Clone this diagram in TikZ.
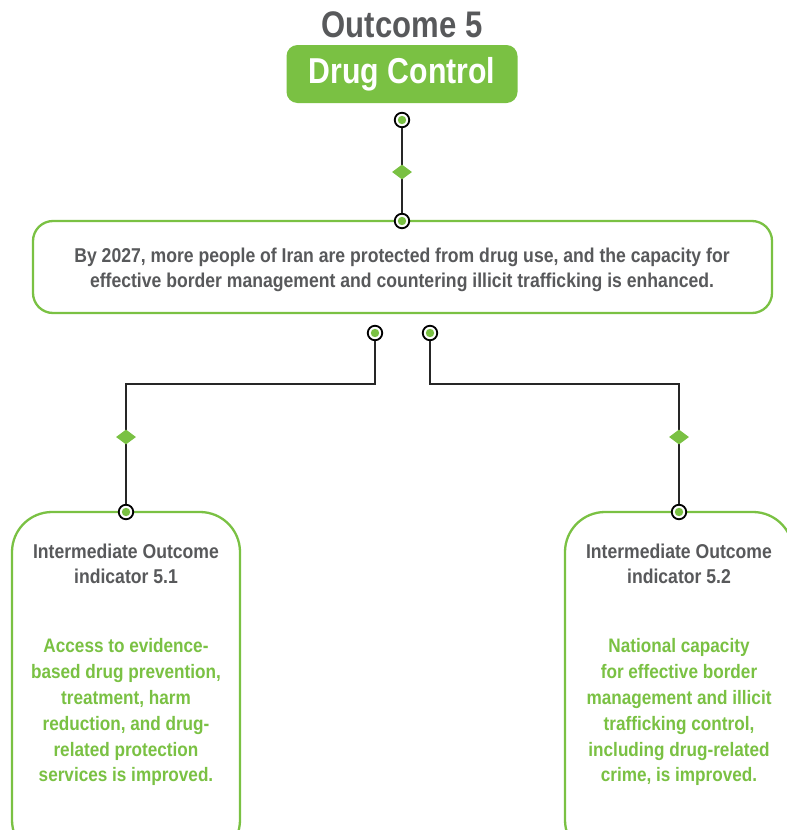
\documentclass[tikz,border=0pt]{standalone}
\usepackage{fontspec}
\setmainfont{Liberation Sans}[FakeStretch=0.84]
\newfontfamily\bodyfont{Liberation Sans}[FakeStretch=0.88]
\usetikzlibrary{shapes.geometric}
\definecolor{leaf}{HTML}{7AC143}
\definecolor{ink}{HTML}{58595B}
\tikzset{
  port/.style={circle, draw=black, line width=1.8pt, fill=white, minimum size=14.5pt, inner sep=0pt,
    path picture={\fill[leaf] (path picture bounding box.center) circle (4.2pt);}},
  gem/.style={diamond, fill=leaf, minimum width=20pt, minimum height=15pt, inner sep=0pt},
  wire/.style={draw=black!85, line width=1.8pt},
  frame/.style={draw=leaf, line width=2.3pt, fill=white},
  body/.style={align=center, inner sep=0pt, anchor=north},
  label/.style={body, text=ink, font=\bodyfont\bfseries\fontsize{20}{24.8}\selectfont},
  detail/.style={body, text=leaf, font=\bodyfont\bfseries\fontsize{19.5}{25.8}\selectfont},
}
\begin{document}
\begin{tikzpicture}[x=1pt, y=-1pt]
\useasboundingbox (0,0) rectangle (787,830);
\clip (0,0) rectangle (787,830);

% heading
\node[font=\bfseries\fontsize{37}{40}\selectfont, text=ink] (title) at (402,25) {Outcome 5};
\node[fill=leaf, rounded corners=11pt, minimum width=231pt, minimum height=58pt, inner sep=0pt,
      font=\bfseries\fontsize{36}{40}\selectfont, text=white] (head) at (402,74) {Drug Control};

% outcome statement
\draw[frame, rounded corners=20pt] (33,221) rectangle (772,313);
\node[label, font=\bodyfont\bfseries\fontsize{20}{25.5}\selectfont] (goal) at (402,247.5)
  {By 2027, more people of Iran are protected from drug use, and the capacity for\\
   effective border management and countering illicit trafficking is enhanced.};

% indicator boxes
\draw[frame, rounded corners=40pt] (12,512) rectangle (240,860);
\draw[frame, rounded corners=40pt] (565,512) rectangle (793,860);

\node[label] (t1) at (126,543.5) {Intermediate Outcome\\indicator 5.1};
\node[detail] (b1) at (126,638.5)
  {Access to evidence-\\based drug prevention,\\treatment, harm\\reduction, and drug-\\related protection\\services is improved.};

\node[label] (t2) at (679,543.5) {Intermediate Outcome\\indicator 5.2};
\node[detail] (b2) at (679,638.5)
  {National capacity\\for effective border\\management and illicit\\trafficking control,\\including drug-related\\crime, is improved.};

% connection points
\node[port] (p0) at (402,120) {};
\node[port] (p1) at (402,221) {};
\node[port] (p2) at (375,333) {};
\node[port] (p3) at (430,333) {};
\node[port] (p4) at (126,512) {};
\node[port] (p5) at (679,512) {};
\coordinate (jl) at (250,384);
\coordinate (jr) at (550,384);

% connectors
\draw[wire] (p0) -- (p1);
\draw[wire] (p2) |- (jl) -| (p4);
\draw[wire] (p3) |- (jr) -| (p5);

\node[gem] (g0) at (402,172) {};
\node[gem] (g1) at (126,437) {};
\node[gem] (g2) at (679,437) {};
\end{tikzpicture}
\end{document}
